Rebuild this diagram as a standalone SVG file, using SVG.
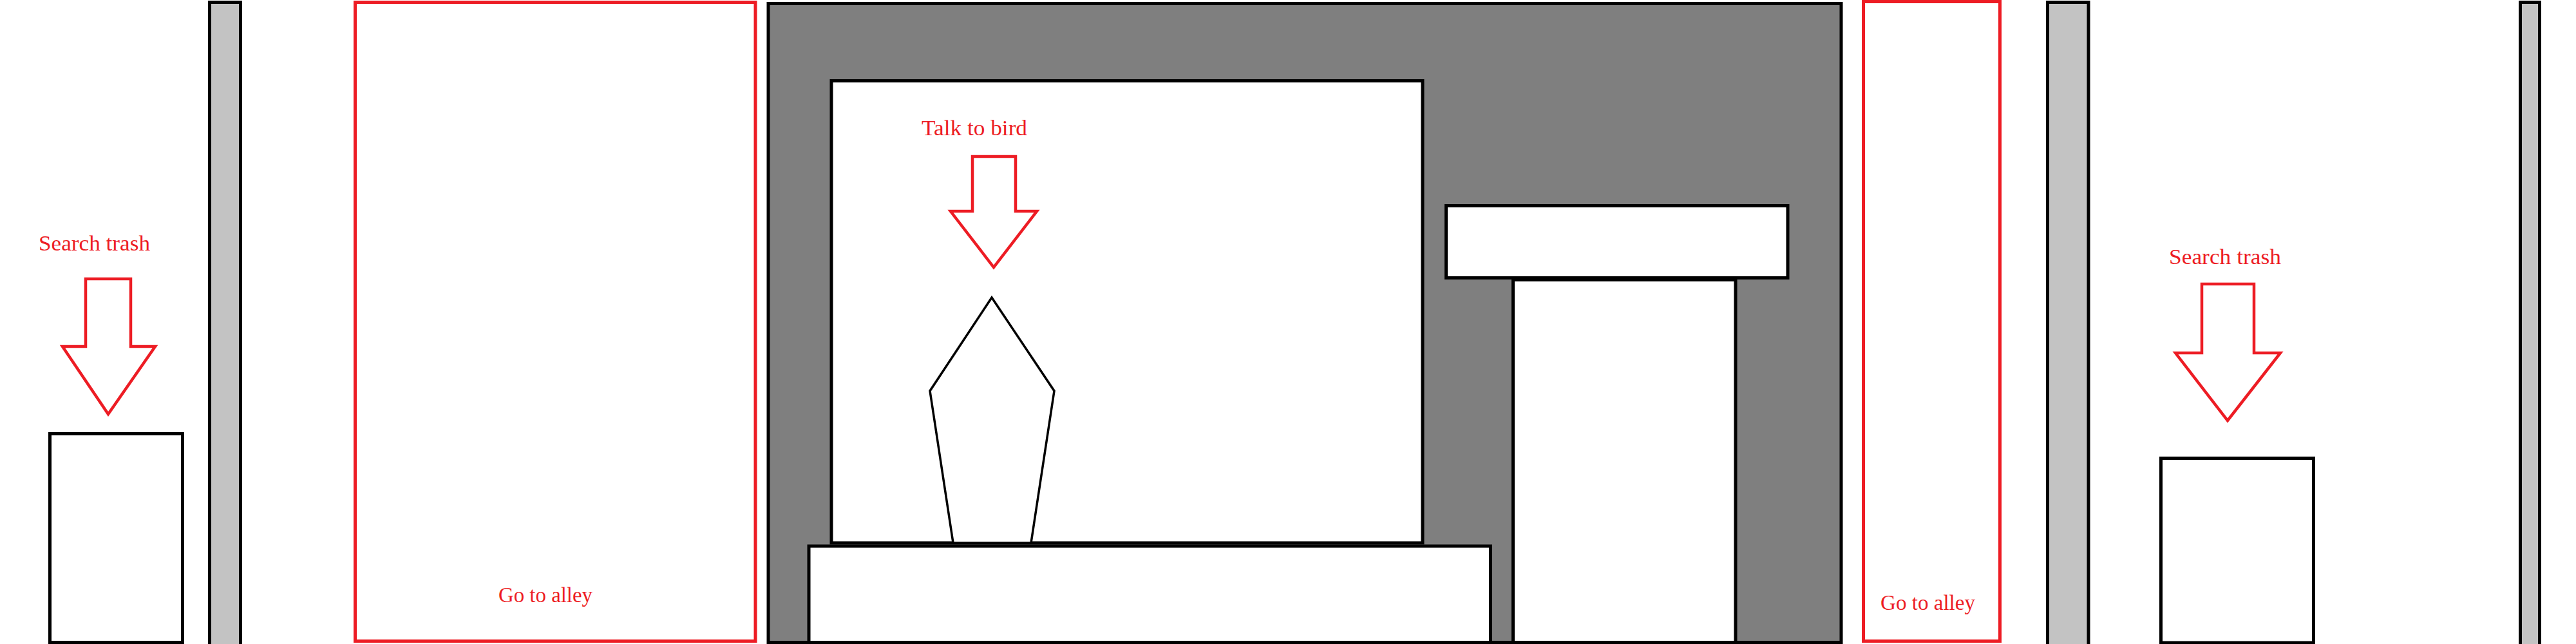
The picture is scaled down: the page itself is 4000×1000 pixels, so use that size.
<svg xmlns="http://www.w3.org/2000/svg" width="4000" height="1000" viewBox="0 0 4000 1000">
<style>
.bg{fill:#ffffff}
.post{fill:#c3c3c3;stroke:#000;stroke-width:5}
.box{fill:#ffffff;stroke:#000;stroke-width:5}
.wall{fill:#7f7f7f;stroke:#000;stroke-width:5}
.hot{fill:none;stroke:#ed1c24;stroke-width:5}
.arrow{fill:#ffffff;stroke:#ed1c24;stroke-width:4.5;stroke-linejoin:miter}
.bird{fill:#ffffff;stroke:#000;stroke-width:3.5;stroke-linejoin:miter}
.lbl{font-family:"Liberation Serif","Times New Roman",serif;font-size:33px;fill:#ed1c24}
</style>
<rect class="bg" x="0" y="0" width="4000" height="1000"/>

<g id="trash-left">
  <rect class="box" x="77.5" y="673.5" width="206" height="324"/>
</g>
<g id="post-1">
  <rect class="post" x="325.5" y="3.5" width="48" height="1010"/>
</g>
<g id="alley-door-left">
  <rect class="hot" x="551.5" y="3.5" width="621.5" height="992"/>
  <text class="lbl" x="774" y="935" textLength="146" lengthAdjust="spacingAndGlyphs">Go to alley</text>
</g>
<g id="shop-wall">
  <rect class="wall" x="1193" y="5.5" width="1666" height="992"/>
</g>
<g id="window">
  <rect class="box" x="1291" y="125.5" width="918" height="717.5"/>
</g>
<g id="bird">
  <polygon class="bird" points="1540,462 1637,607 1601,843 1480,843 1444,607"/>
</g>
<g id="counter">
  <rect class="box" x="1256" y="848" width="1058.5" height="149.5"/>
</g>
<g id="column">
  <rect class="box" x="2349.5" y="434.5" width="345.5" height="563"/>
</g>
<g id="shelf">
  <rect class="box" x="2245.5" y="319.5" width="530.5" height="112"/>
</g>
<g id="alley-door-right">
  <rect class="hot" x="2893.5" y="2.5" width="212" height="993"/>
  <text class="lbl" x="2920" y="947" textLength="147" lengthAdjust="spacingAndGlyphs">Go to alley</text>
</g>
<g id="post-2">
  <rect class="post" x="3179.5" y="3.5" width="63.5" height="1010"/>
</g>
<g id="trash-right">
  <rect class="box" x="3355.5" y="711.5" width="237" height="286.5"/>
</g>
<g id="post-3">
  <rect class="post" x="3913.5" y="3.5" width="30" height="1010"/>
</g>

<g id="connectors">
  <g id="arrow-search-left">
    <text class="lbl" x="60" y="389" textLength="173" lengthAdjust="spacingAndGlyphs">Search trash</text>
    <polygon class="arrow" points="133,433 203,433 203,538 241,538 168,643 97,538 133,538"/>
  </g>
  <g id="arrow-bird">
    <text class="lbl" x="1431" y="210" textLength="164" lengthAdjust="spacingAndGlyphs">Talk to bird</text>
    <polygon class="arrow" points="1510,243 1577,243 1577,328 1610,328 1543,415 1476,328 1510,328"/>
  </g>
  <g id="arrow-search-right">
    <text class="lbl" x="3368" y="410" textLength="174" lengthAdjust="spacingAndGlyphs">Search trash</text>
    <polygon class="arrow" points="3419,441 3500,441 3500,548 3541,548 3459,653 3378,548 3419,548"/>
  </g>
</g>
</svg>
